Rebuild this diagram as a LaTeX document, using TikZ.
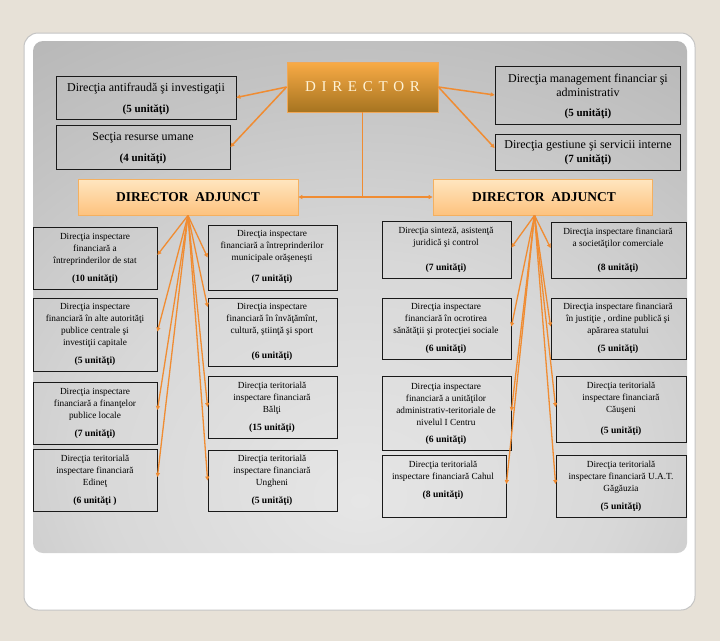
\documentclass[tikz,border=0pt]{standalone}
\usepackage{fontspec}
\setmainfont{Liberation Serif}
\usetikzlibrary{arrows.meta,fit,calc}
\definecolor{bgbeige}{HTML}{E7E1D7}
\definecolor{frameg}{HTML}{C4C4C4}
\definecolor{pA}{HTML}{E6E6E6}
\definecolor{pB}{HTML}{D8D8D8}
\definecolor{pC}{HTML}{C4C4C4}
\definecolor{pD}{HTML}{B2B2B2}
\definecolor{pE}{HTML}{A0A0A0}
\definecolor{lineor}{HTML}{F08C32}
\definecolor{dirtop}{HTML}{F9AB46}
\definecolor{dirbot}{HTML}{A67420}
\definecolor{dirbord}{HTML}{F0A858}
\definecolor{dircream}{HTML}{FFF3D6}
\definecolor{datop}{HTML}{FFE6C0}
\definecolor{dabot}{HTML}{FDC27E}
\definecolor{dabord}{HTML}{F4B060}
\pgfdeclareradialshading{panelshade}{\pgfpoint{0bp}{-20bp}}{color(0bp)=(pA); color(20bp)=(pB); color(35bp)=(pC); color(50bp)=(pD); color(70bp)=(pE); color(120bp)=(pE)}
\begin{document}
\begin{tikzpicture}[x=1pt,y=-1pt,
  gbox/.style={draw=black!90, line width=0.8pt, inner sep=0pt},
  dirbox/.style={draw=dirbord, line width=0.8pt, inner sep=0pt, top color=dirtop, bottom color=dirbot},
  dirtxt/.style={text=dircream, font=\fontsize{15}{18}\selectfont, inner sep=0pt},
  dabox/.style={draw=dabord, line width=0.8pt, inner sep=0pt, top color=datop, bottom color=dabot},
  datxt/.style={text=black, font=\fontsize{13.5}{16}\selectfont\bfseries, inner sep=0pt},
  ttxt/.style={font=\fontsize{12}{14}\selectfont, align=center, inner sep=0pt},
  tunit/.style={font=\fontsize{11}{14}\selectfont\bfseries, inner sep=0pt},
  stxt/.style={font=\fontsize{9.3}{12}\selectfont, align=center, inner sep=0pt},
  sunit/.style={font=\fontsize{9.6}{12}\selectfont\bfseries, inner sep=0pt},
  arr/.style={draw=lineor, line width=1.3pt, -{Triangle[length=4pt,width=4pt]}},
  vline/.style={draw=lineor, line width=1pt}
]
\useasboundingbox (0,0) rectangle (720,641);
\fill[bgbeige] (0,0) rectangle (720,641);
\draw[draw=frameg, line width=1pt, fill=white, rounded corners=14pt] (24,33) rectangle (695,610);
\shade[shading=panelshade, rounded corners=10pt] (33,41) rectangle (687,553);

% director
\node[dirbox, fit={(287,62) (438,112)}] (DIR) {};
\node[dirtxt] (DIRt) at (362.5,87) {D\hspace{5.7pt}I\hspace{5.7pt}R\hspace{5.7pt}E\hspace{5.7pt}C\hspace{5.7pt}T\hspace{5.7pt}O\hspace{5.7pt}R};

% top boxes
\node[gbox, fit={(56,76) (236,119)}] (A1) {};
\node[ttxt] (A1t) at (146,88.5) {Direcţia antifraudă şi investigaţii};
\node[tunit] (A1u) at (146,110) {(5 unităţi)};
\node[gbox, fit={(56,125) (230,169)}] (A2) {};
\node[ttxt] (A2t) at (143,138) {Secţia resurse umane};
\node[tunit] (A2u) at (143,159) {(4 unităţi)};
\node[gbox, fit={(495,66) (680,124)}] (B1) {};
\node[ttxt] (B1t) at (588,85) {Direcţia management financiar şi\\administrativ};
\node[tunit] (B1u) at (588,114) {(5 unităţi)};
\node[gbox, fit={(495,134) (680,170)}] (B2) {};
\node[ttxt] (B2t) at (588,145.5) {Direcţia gestiune şi servicii interne};
\node[tunit] (B2u) at (588,160) {(7 unităţi)};

% deputy directors
\node[dabox, fit={(78,179) (298,215)}] (DAL) {};
\node[datxt] (DALt) at (188,197.5) {DIRECTOR\ \ ADJUNCT};
\node[dabox, fit={(433,179) (652,215)}] (DAR) {};
\node[datxt] (DARt) at (544,197.5) {DIRECTOR\ \ ADJUNCT};
\coordinate (hub) at (362.5,197);

% left column 1
\node[gbox, fit={(33.5,227) (157,289)}] (L1a) {};
\node[stxt] (L1at) at (95,249.4) {Direcţia inspectare\\financiară a\\întreprinderilor de stat};
\node[sunit] (L1au) at (95,279.6) {(10 unităţi)};
\node[gbox, fit={(33.5,298) (157,371)}] (L1b) {};
\node[stxt] (L1bt) at (95,325) {Direcţia inspectare\\financiară în alte autorităţi\\publice centrale şi\\investiţii capitale};
\node[sunit] (L1bu) at (95,361) {(5 unităţi)};
\node[gbox, fit={(33.5,382) (157,444)}] (L1c) {};
\node[stxt] (L1ct) at (95,404.3) {Direcţia inspectare\\financiară a finanţelor\\publice locale};
\node[sunit] (L1cu) at (95,434) {(7 unităţi)};
\node[gbox, fit={(33.5,449) (157,511)}] (L1d) {};
\node[stxt] (L1dt) at (95,471.5) {Direcţia teritorială\\inspectare financiară\\Edineţ};
\node[sunit] (L1du) at (95,501.6) {(6 unităţi )};

% left column 2
\node[gbox, fit={(208,225) (337,290)}] (L2a) {};
\node[stxt] (L2at) at (272,246.8) {Direcţia inspectare\\financiară a întreprinderilor\\municipale orăşeneşti};
\node[sunit] (L2au) at (272,279) {(7 unităţi)};
\node[gbox, fit={(208,298) (337,366)}] (L2b) {};
\node[stxt] (L2bt) at (272,319.3) {Direcţia inspectare\\financiară în învăţămînt,\\cultură, ştiinţă şi sport};
\node[sunit] (L2bu) at (272,355.7) {(6 unităţi)};
\node[gbox, fit={(208,376) (337,438)}] (L2c) {};
\node[stxt] (L2ct) at (272,398) {Direcţia teritorială\\inspectare financiară\\Bălţi};
\node[sunit] (L2cu) at (272,428) {(15 unităţi)};
\node[gbox, fit={(208,450) (337,511)}] (L2d) {};
\node[stxt] (L2dt) at (272,471.5) {Direcţia teritorială\\inspectare financiară\\Ungheni};
\node[sunit] (L2du) at (272,501.6) {(5 unităţi)};

% right column 1
\node[gbox, fit={(382,221) (511,278)}] (R1a) {};
\node[stxt] (R1at) at (446,237.7) {Direcţia sinteză, asistenţă\\juridică şi control};
\node[sunit] (R1au) at (446,267.8) {(7 unităţi)};
\node[gbox, fit={(382,298) (511,359)}] (R1b) {};
\node[stxt] (R1bt) at (446,319.3) {Direcţia inspectare\\financiară în ocrotirea\\sănătăţii şi protecţiei sociale};
\node[sunit] (R1bu) at (446,349.5) {(6 unităţi)};
\node[gbox, fit={(382,376) (511,450)}] (R1c) {};
\node[stxt] (R1ct) at (446,404) {Direcţia inspectare\\financiară a unităţilor\\administrativ-teritoriale de\\nivelul I Centru};
\node[sunit] (R1cu) at (446,440) {(6 unităţi)};
\node[gbox, fit={(382,455) (506,517)}] (R1d) {};
\node[stxt] (R1dt) at (443,471) {Direcţia teritorială\\inspectare financiară Cahul};
\node[sunit] (R1du) at (443,495.5) {(8 unităţi)};

% right column 2
\node[gbox, fit={(551,222) (686,278)}] (R2a) {};
\node[stxt] (R2at) at (618,238.5) {Direcţia inspectare financiară\\a societăţilor comerciale};
\node[sunit] (R2au) at (618,268.6) {(8 unităţi)};
\node[gbox, fit={(551,298) (686,359)}] (R2b) {};
\node[stxt] (R2bt) at (618,319.3) {Direcţia inspectare financiară\\în justiţie , ordine publică şi\\apărarea statului};
\node[sunit] (R2bu) at (618,349.5) {(5 unităţi)};
\node[gbox, fit={(556,376) (686,442)}] (R2c) {};
\node[stxt] (R2ct) at (621,398) {Direcţia teritorială\\inspectare financiară\\Căuşeni};
\node[sunit] (R2cu) at (621,431) {(5 unităţi)};
\node[gbox, fit={(556,455) (686,517)}] (R2d) {};
\node[stxt] (R2dt) at (621,477) {Direcţia teritorială\\inspectare financiară U.A.T.\\Găgăuzia};
\node[sunit] (R2du) at (621,507) {(5 unităţi)};

% connectors
\draw[arr, line width=1.5pt] (DIR.west) -- (A1.east);
\draw[arr, line width=1.5pt] (DIR.west) -- (A2.east);
\draw[arr, line width=1.5pt] (DIR.east) -- (B1.west);
\draw[arr, line width=1.5pt] (DIR.east) -- ([yshift=4pt]B2.west);
\draw[vline] (DIR.south) -- (hub);
\draw[arr] (hub) -- (DAL.east);
\draw[arr] (hub) -- (DAR.west);
\coordinate (dl) at (DAL.south);
\coordinate (dr) at ([xshift=-8pt]DAR.south);
\foreach \t in {L1a,L1b,L1c,L1d} \draw[arr] (dl) -- ([yshift=3pt]\t.east);
\foreach \t in {L2a,L2c,L2d} \draw[arr] (dl) -- (\t.west);
\draw[arr] (dl) -- ([yshift=25pt]L2b.west);
\foreach \t in {R1a,R1b,R1c,R1d} \draw[arr] (dr) -- ([yshift=2pt]\t.east);
\foreach \t in {R2a,R2b,R2c,R2d} \draw[arr] (dr) -- ([yshift=2pt]\t.west);
\end{tikzpicture}
\end{document}
